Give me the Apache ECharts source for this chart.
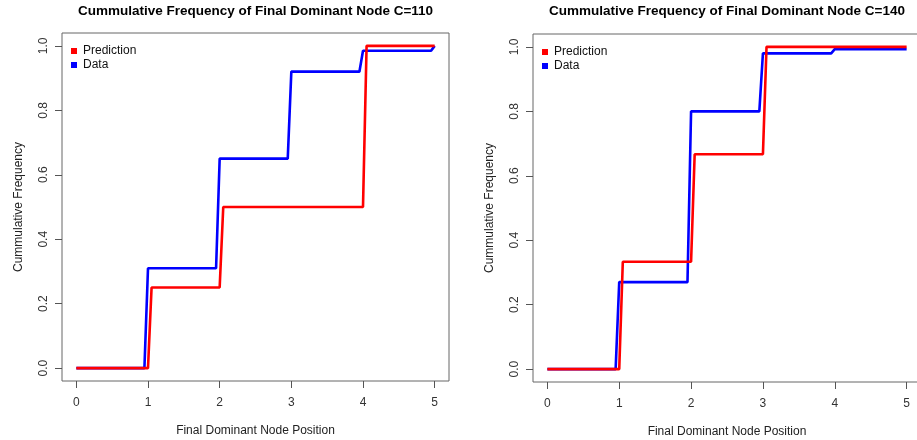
<!DOCTYPE html>
<html>
<head>
<meta charset="utf-8">
<script src="https://cdn.jsdelivr.net/npm/echarts@6/dist/echarts.min.js"></script>
<style>
  html, body { margin: 0; padding: 0; background: #fff; }
  #chart { width: 917px; height: 440px; }
</style>
</head>
<body>
<div id="chart"></div>
<script>
// Cumulative frequency of the final dominant node, C=110 (left) and C=140 (right)
const xTicks = [0, 1, 2, 3, 4, 5];
const yTicks = [0, 0.2, 0.4, 0.6, 0.8, 1.0];

const predX110 = [0, 1, 1.05, 2, 2.05, 4, 4.05, 5];
const predY110 = [0, 0, 0.25, 0.25, 0.5, 0.5, 1.0, 1.0];
const dataX110 = [0, 0.95, 1, 1.95, 2, 2.95, 3, 3.95, 4, 4.95, 5];
const dataY110 = [0, 0, 0.31, 0.31, 0.65, 0.65, 0.92, 0.92, 0.985, 0.985, 1.0];

const predX140 = [0, 1, 1.05, 2, 2.05, 3, 3.05, 5];
const predY140 = [0, 0, 0.333, 0.333, 0.667, 0.667, 1.0, 1.0];
const dataX140 = [0, 0.95, 1, 1.95, 2, 2.95, 3, 3.95, 4, 5];
const dataY140 = [0, 0, 0.27, 0.27, 0.8, 0.8, 0.98, 0.98, 0.993, 0.993];

const titles = [
  'Cummulative Frequency of Final Dominant Node C=110',
  'Cummulative Frequency of Final Dominant Node C=140'
];

const FONT = '"Liberation Sans", Arial, sans-serif';
const zip = (xs, ys) => xs.map((x, i) => [x, ys[i]]);

const grids = [
  { left: 62, top: 33, width: 387, height: 348 },
  { left: 533, top: 34, width: 388, height: 348 }
];

function xAxisFor(i) {
  return {
    type: 'value', gridIndex: i, min: -0.2, max: 5.2,
    name: 'Final Dominant Node Position', nameLocation: 'middle', nameGap: 44,
    nameTextStyle: { fontFamily: FONT, fontSize: 12, color: '#222' },
    axisLine: { show: false, onZero: false },
    splitLine: { show: false },
    axisTick: { show: true, inside: false, customValues: xTicks, length: 7, lineStyle: { color: '#555' } },
    axisLabel: { customValues: xTicks, margin: 16, fontFamily: FONT, fontSize: 12, color: '#333' }
  };
}

function yAxisFor(i) {
  return {
    type: 'value', gridIndex: i, min: -0.04, max: 1.04,
    name: 'Cummulative Frequency', nameLocation: 'middle', nameGap: 37,
    nameTextStyle: { fontFamily: FONT, fontSize: 12, color: '#222' },
    axisLine: { show: false, onZero: false },
    splitLine: { show: false },
    axisTick: { show: true, inside: false, customValues: yTicks, length: 7, lineStyle: { color: '#555' } },
    axisLabel: {
      customValues: yTicks, rotate: 90, margin: 12,
      fontFamily: FONT, fontSize: 12, color: '#333',
      formatter: v => v.toFixed(1)
    }
  };
}

function lineSeries(name, color, i, xs, ys) {
  return {
    name, type: 'line', xAxisIndex: i, yAxisIndex: i,
    data: zip(xs, ys), showSymbol: false, symbol: 'none',
    lineStyle: { color, width: 2.6 }, itemStyle: { color },
    animation: false, z: name === 'Prediction' ? 3 : 2
  };
}

const chart = echarts.init(document.getElementById('chart'), null, { renderer: 'canvas' });
chart.setOption({
  backgroundColor: '#fff',
  animation: false,
  title: titles.map((t, i) => ({
    text: t, padding: 0,
    left: grids[i].left + grids[i].width / 2, top: 4, textAlign: 'center',
    textStyle: { fontFamily: FONT, fontSize: 13.5, fontWeight: 'bold', color: '#000' }
  })),
  legend: [0, 1].map(i => ({
    orient: 'vertical', left: grids[i].left + 9, top: grids[i].top + 12,
    icon: 'rect', itemWidth: 6, itemHeight: 6, itemGap: 2,
    textStyle: { fontFamily: FONT, fontSize: 12, color: '#111', padding: [0, 0, 0, 1] },
    data: [
      { name: 'Prediction', itemStyle: { color: '#ff0000' } },
      { name: 'Data', itemStyle: { color: '#0000ff' } }
    ],
    padding: 0,
    selectedMode: false
  })),
  grid: grids.map(g => ({
    ...g, show: true, borderColor: '#666', borderWidth: 1, backgroundColor: 'transparent',
    containLabel: false, outerBoundsMode: 'none'
  })),
  xAxis: [xAxisFor(0), xAxisFor(1)],
  yAxis: [yAxisFor(0), yAxisFor(1)],
  series: [
    lineSeries('Data', '#0000ff', 0, dataX110, dataY110),
    lineSeries('Prediction', '#ff0000', 0, predX110, predY110),
    lineSeries('Data', '#0000ff', 1, dataX140, dataY140),
    lineSeries('Prediction', '#ff0000', 1, predX140, predY140)
  ]
});
</script>
</body>
</html>
